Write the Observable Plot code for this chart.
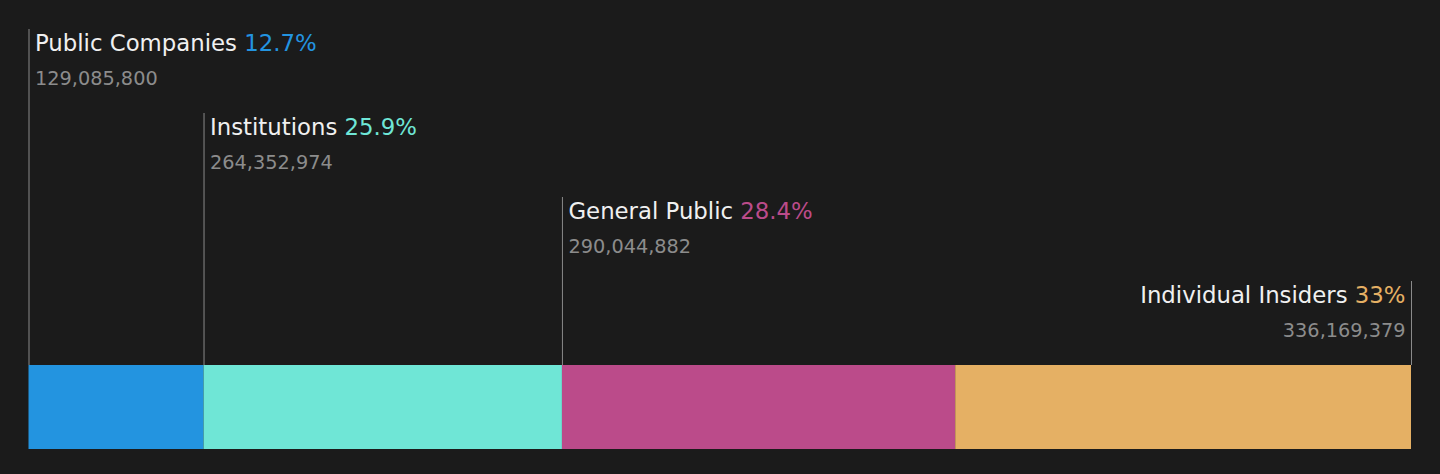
<!DOCTYPE html>
<html>
<head>
<meta charset="utf-8">
<script src="https://cdn.jsdelivr.net/npm/d3@7"></script>
<script src="https://cdn.jsdelivr.net/npm/@observablehq/plot@0.6"></script>
<style>
  html, body { margin: 0; padding: 0; background: #1b1b1b; }
  #chart svg { display: block; }
</style>
</head>
<body>
<div id="chart"></div>
<script>
const categories = ["Public Companies", "Institutions", "General Public", "Individual Insiders"];
const shares = [129085800, 264352974, 290044882, 336169379];
const percentLabels = ["12.7%", "25.9%", "28.4%", "33%"];
const colors = ["#2394e0", "#6fe6d6", "#bb4b8a", "#e5b064"];

const total = d3.sum(shares);
let acc = 0;
const data = categories.map((name, i) => {
  const start = acc;
  acc += shares[i];
  const last = i === categories.length - 1;
  return {
    name, value: shares[i], pct: percentLabels[i], color: colors[i],
    start, end: acc, level: i, last,
    anchorX: last ? acc : start
  };
});
const firsts = data.filter(d => !d.last);
const lasts = data.filter(d => d.last);

const fmt = d3.format(",");
const titleOpts = { y: "level", text: d => d.name + "|" + d.pct, lineAnchor: "bottom", dy: 21, fill: "#f0f0f0", fontSize: 22.8 };
const valueOpts = { y: "level", text: d => fmt(d.value), lineAnchor: "bottom", dy: 55, fill: "#8c8c8c", fontSize: 19.3 };

const plot = Plot.plot({
  width: 1440,
  height: 474,
  margin: 0,
  style: { background: "#1b1b1b", fontFamily: "DejaVu Sans, sans-serif" },
  x: { domain: [0, total], range: [28.5, 1411], axis: null },
  y: { domain: [0, 5], range: [29, 449], axis: null },
  marks: [
    Plot.rect(data, { x1: "start", x2: "end", y1: 4, y2: 5, fill: "color" }),
    Plot.ruleX(data, { x: "anchorX", y1: "level", y2: 4, stroke: "#8a8a8a", strokeWidth: 1 }),
    Plot.text(firsts, { ...titleOpts, x: "anchorX", textAnchor: "start", dx: 6 }),
    Plot.text(lasts, { ...titleOpts, x: "anchorX", textAnchor: "end", dx: -6 }),
    Plot.text(firsts, { ...valueOpts, x: "anchorX", textAnchor: "start", dx: 6 }),
    Plot.text(lasts, { ...valueOpts, x: "anchorX", textAnchor: "end", dx: -6 })
  ]
});

// split titles into name + coloured percent
const svg = d3.select(plot);
const textGroups = svg.selectAll('g[aria-label="text"]').nodes();
[textGroups[0], textGroups[1]].forEach(g => {
  d3.select(g).selectAll("text").each(function() {
    const [name, pct] = this.textContent.split("|");
    const d = data.find(e => e.name === name);
    const t = d3.select(this);
    t.text(null);
    t.append("tspan").attr("fill", "#f0f0f0").text(name + " ");
    t.append("tspan").attr("fill", d.color).text(pct);
  });
});

document.getElementById("chart").appendChild(plot);
</script>
</body>
</html>
